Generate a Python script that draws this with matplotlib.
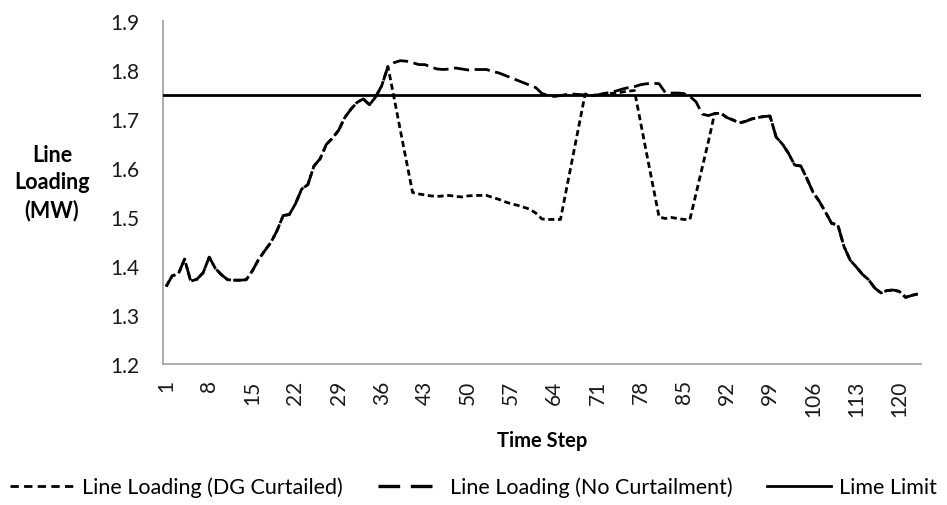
import matplotlib
matplotlib.use("Agg")
import matplotlib.pyplot as plt
from matplotlib.lines import Line2D

plt.rcParams['font.family'] = ['Lato', 'DejaVu Sans']

# Line loading per time step (MW)
time_steps = list(range(1, 124))

no_curtailment = [
    1.358, 1.380, 1.384, 1.414, 1.369, 1.373, 1.386, 1.418, 1.395, 1.382,
    1.372, 1.371, 1.371, 1.372, 1.390, 1.413, 1.431, 1.448, 1.472, 1.503,
    1.505, 1.527, 1.557, 1.566, 1.604, 1.619, 1.648, 1.661, 1.677, 1.703,
    1.720, 1.734, 1.741, 1.729, 1.745, 1.768, 1.807, 1.815, 1.819, 1.818,
    1.815, 1.811, 1.811, 1.806, 1.802, 1.801, 1.802, 1.804, 1.802, 1.800,
    1.801, 1.801, 1.801, 1.797, 1.794, 1.789, 1.784, 1.779, 1.774, 1.769,
    1.764, 1.752, 1.748, 1.746, 1.748, 1.750, 1.751, 1.750, 1.749, 1.748,
    1.749, 1.752, 1.754, 1.757, 1.761, 1.764, 1.766, 1.770, 1.772, 1.773,
    1.772, 1.754, 1.753, 1.753, 1.752, 1.746, 1.735, 1.710, 1.707, 1.711,
    1.712, 1.703, 1.698, 1.692, 1.695, 1.700, 1.703, 1.705, 1.706, 1.663,
    1.649, 1.630, 1.606, 1.604, 1.578, 1.550, 1.532, 1.510, 1.487, 1.484,
    1.440, 1.412, 1.398, 1.383, 1.372, 1.355, 1.345, 1.350, 1.351, 1.348,
    1.336, 1.340, 1.343,
]

dg_curtailed = [
    1.358, 1.380, 1.384, 1.414, 1.369, 1.373, 1.386, 1.418, 1.395, 1.382,
    1.372, 1.371, 1.371, 1.372, 1.390, 1.413, 1.431, 1.448, 1.472, 1.503,
    1.505, 1.527, 1.557, 1.566, 1.604, 1.619, 1.648, 1.661, 1.677, 1.703,
    1.720, 1.734, 1.741, 1.729, 1.745, 1.768, 1.807, 1.743, 1.678, 1.614,
    1.550, 1.547, 1.545, 1.543, 1.542, 1.543, 1.544, 1.542, 1.541, 1.543,
    1.544, 1.544, 1.544, 1.540, 1.536, 1.531, 1.527, 1.524, 1.520, 1.516,
    1.508, 1.496, 1.495, 1.495, 1.495, 1.559, 1.623, 1.687, 1.751, 1.748,
    1.749, 1.751, 1.752, 1.753, 1.755, 1.757, 1.758, 1.693, 1.628, 1.564,
    1.500, 1.497, 1.499, 1.497, 1.495, 1.495, 1.548, 1.601, 1.654, 1.711,
    1.712, 1.703, 1.698, 1.692, 1.695, 1.700, 1.703, 1.705, 1.706, 1.663,
    1.649, 1.630, 1.606, 1.604, 1.578, 1.550, 1.532, 1.510, 1.487, 1.484,
    1.440, 1.412, 1.398, 1.383, 1.372, 1.355, 1.345, 1.350, 1.351, 1.348,
    1.336, 1.340, 1.343,
]

line_limit = 1.75

y_ticks = [1.2, 1.3, 1.4, 1.5, 1.6, 1.7, 1.8, 1.9]
x_tick_steps = list(range(1, 124, 7))

series_labels = ['Line Loading (DG Curtailed)', 'Line Loading (No Curtailment)', 'Lime Limit']

fig = plt.figure(figsize=(9.47, 5.06), dpi=100)
ax = fig.add_axes([163 / 947, 1 - 365 / 506, (921 - 163) / 947, (365 - 22) / 506])

lw = 2.0
dg_style = (0, (2.2, 1.3))
nc_style = (0, (5.5, 2.0))
ax.plot(time_steps, dg_curtailed, color='black', lw=lw, linestyle=dg_style, zorder=3)
ax.plot(time_steps, no_curtailment, color='black', lw=lw, linestyle=nc_style, zorder=2)
ax.axhline(line_limit, color='black', lw=lw, zorder=4)

ax.set_xlim(0.5, len(time_steps) + 0.5)
ax.set_ylim(1.2, 1.9)
ax.set_yticks(y_ticks)
ax.set_yticklabels([f'{v:.1f}' for v in y_ticks])
ax.set_xticks(x_tick_steps)
ax.set_xticklabels([str(s) for s in x_tick_steps], rotation=90)
ax.tick_params(axis='both', length=0, labelsize=15, colors='#1a1a1a')
ax.tick_params(axis='y', pad=17)
ax.tick_params(axis='x', pad=11)

for side in ('top', 'right'):
    ax.spines[side].set_visible(False)
for side in ('left', 'bottom'):
    ax.spines[side].set_color('#a6a6a6')
    ax.spines[side].set_linewidth(1.3)

ax.set_xlabel('Time Step', fontsize=14.5, fontweight='bold', labelpad=10)
fig.text(52 / 947, 1 - 183 / 506, 'Line\nLoading\n(MW)', ha='center', va='center',
         fontsize=15.5, fontweight='bold', linespacing=1.35)

# legend keys drawn with the chart's line colours and a wider dash rhythm
handles = [
    Line2D([], [], color='black', lw=2.0, linestyle=(0, (3.0, 1.9))),
    Line2D([], [], color='black', lw=2.4, linestyle=(0, (6.5, 3.2))),
    Line2D([], [], color='black', lw=2.0),
]
fig.legend(handles, series_labels, loc='center', bbox_to_anchor=(0.5, 1 - 488 / 506),
           ncol=3, frameon=False, fontsize=15.5, handlelength=3.0, handletextpad=0.35,
           columnspacing=1.6)

fig.savefig('out.png', dpi=100)
